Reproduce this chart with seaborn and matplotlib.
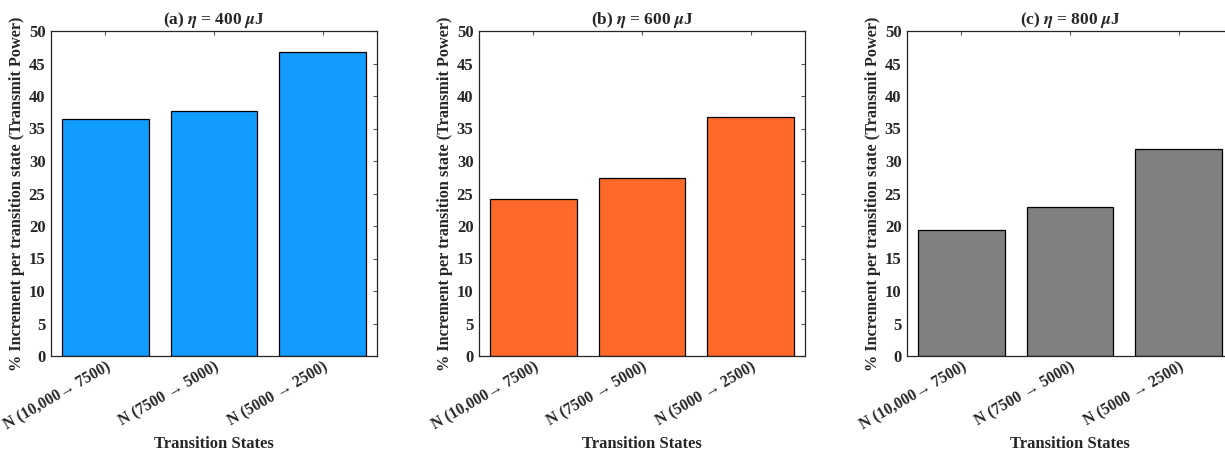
import matplotlib
matplotlib.use("Agg")
import matplotlib.pyplot as plt
import seaborn as sns
import pandas as pd

states = ["N (10,000\u2192 7500)", "N (7500 \u2192 5000)", "N (5000 \u2192 2500)"]
vals_400 = [36.5, 37.7, 46.8]
vals_600 = [24.1, 27.4, 36.7]
vals_800 = [19.4, 22.9, 31.9]
titles = [r"(a) $\mathbfit{\eta}$ = 400 $\mathbfit{\mu}$J",
          r"(b) $\mathbfit{\eta}$ = 600 $\mathbfit{\mu}$J",
          r"(c) $\mathbfit{\eta}$ = 800 $\mathbfit{\mu}$J"]
colors = ["#139CFF", "#FF6A2B", "#808080"]
yticks = list(range(0, 51, 5))

sns.set_style("white")
plt.rcParams["font.family"] = ["Liberation Serif", "DejaVu Serif"]
plt.rcParams["font.weight"] = "bold"
plt.rcParams["mathtext.fontset"] = "stix"

fig = plt.figure(figsize=(12.25, 4.53), dpi=100)
lefts = [51 / 1225, 479 / 1225, 907 / 1225]
w = 326 / 1225
b = 1 - 356 / 453
h = 325 / 453

for left, vals, title, col in zip(lefts, [vals_400, vals_600, vals_800], titles, colors):
    ax = fig.add_axes([left, b, w, h])
    df = pd.DataFrame({"state": states, "val": vals})
    sns.barplot(data=df, x="state", y="val", color=col, saturation=1,
                edgecolor="black", linewidth=0.9, width=0.8, ax=ax)
    ax.set_xlim(-0.5, 2.5)
    ax.set_ylim(0, 50)
    ax.set_yticks(yticks)
    ax.set_yticklabels([str(t) for t in yticks], fontsize=12, fontweight="bold")
    ax.set_xticks(range(3))
    ax.set_xticklabels(states, rotation=30, ha="right", rotation_mode="anchor",
                       fontsize=11.3, fontweight="bold")
    ax.tick_params(axis="both", direction="in", length=3, width=0.8, color="#555555",
                   top=True, right=True, pad=4)
    ax.tick_params(axis="x", pad=2)
    for s in ax.spines.values():
        s.set_visible(True)
        s.set_color("#262626")
        s.set_linewidth(0.9)
    ax.set_title(title, fontsize=12.5, fontweight="bold", pad=5)
    ax.set_xlabel("Transition States", fontsize=12, fontweight="bold")
    ax.xaxis.set_label_coords(0.5, -0.245)
    ax.set_ylabel("% Increment per transition state (Transmit Power)", fontsize=11.7,
                  fontweight="bold", labelpad=3)

fig.savefig("out.png", dpi=100)
